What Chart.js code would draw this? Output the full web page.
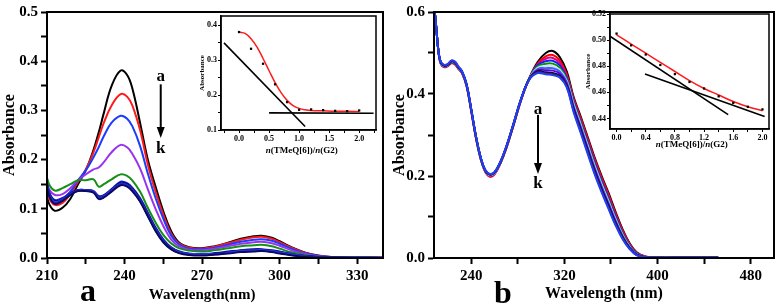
<!DOCTYPE html>
<html><head><meta charset="utf-8">
<script src="https://cdn.jsdelivr.net/npm/chart.js@4.4.1/dist/chart.umd.min.js"></script>
<style>
body{margin:0;background:#fff;width:779px;height:306px;overflow:hidden;position:relative;font-family:"Liberation Serif",serif;}
canvas{position:absolute;}
.t{position:absolute;font-weight:bold;color:#000;white-space:nowrap;line-height:1;}
</style></head><body>
<canvas id="ca" width="390" height="306" style="left:0;top:0;width:390px;height:306px"></canvas>
<canvas id="cb" width="389" height="306" style="left:390px;top:0;width:389px;height:306px"></canvas>
<canvas id="ia" width="185" height="152" style="left:195px;top:8px;width:185px;height:152px"></canvas>
<canvas id="ib" width="193" height="154" style="left:582px;top:6px;width:193px;height:154px"></canvas>
<div class="t" style="left:80px;top:274px;font-size:32px">a</div>
<div class="t" style="left:494px;top:276px;font-size:32px">b</div>
<div class="t" style="left:301.7px;top:150px;font-size:9px;transform:translate(-50%,-50%)"><i>n</i>(TMeQ[6])/<i>n</i>(G2)</div>
<div class="t" style="left:691.7px;top:144px;font-size:9px;transform:translate(-50%,-50%)"><i>n</i>(TMeQ[6])/<i>n</i>(G2)</div>
<script>
// ---------- Panel a data ----------
const wlA = [210,211,213,216,219,222,225,228,230,232,235,238.5,241,243,246,249,252,255,258,261,265,270,275,280,285,290,293,297,300,305,310,315,320,330,340];
const A_a = [0.125,0.108,0.096,0.102,0.12,0.15,0.178,0.22,0.255,0.295,0.35,0.381,0.372,0.345,0.275,0.2,0.145,0.095,0.055,0.032,0.022,0.02,0.024,0.031,0.039,0.044,0.045,0.041,0.034,0.021,0.011,0.005,0.002,0.001,0.001];
const A_b = [0.14,0.12,0.108,0.112,0.13,0.155,0.18,0.215,0.245,0.275,0.31,0.333,0.328,0.31,0.26,0.19,0.135,0.088,0.05,0.03,0.021,0.019,0.023,0.03,0.037,0.042,0.043,0.039,0.032,0.02,0.01,0.004,0.002,0.001,0.001];
const A_c = [0.148,0.128,0.115,0.12,0.135,0.158,0.178,0.205,0.225,0.248,0.275,0.289,0.283,0.268,0.228,0.172,0.122,0.08,0.046,0.028,0.019,0.018,0.021,0.027,0.033,0.037,0.038,0.035,0.029,0.018,0.009,0.004,0.002,0.001,0.001];
const A_d = [0.155,0.138,0.128,0.13,0.142,0.158,0.17,0.18,0.184,0.195,0.215,0.23,0.225,0.212,0.182,0.14,0.1,0.065,0.038,0.024,0.017,0.016,0.019,0.024,0.029,0.032,0.033,0.03,0.025,0.015,0.008,0.003,0.002,0.001,0.001];
const A_e = [0.163,0.148,0.137,0.142,0.15,0.158,0.158,0.16,0.145,0.15,0.16,0.17,0.167,0.158,0.135,0.102,0.072,0.047,0.03,0.02,0.015,0.013,0.016,0.02,0.024,0.026,0.027,0.024,0.019,0.011,0.006,0.002,0.001,0.001,0];
const A_f = [0.152,0.132,0.118,0.122,0.132,0.138,0.138,0.136,0.126,0.128,0.14,0.155,0.152,0.143,0.122,0.092,0.062,0.038,0.022,0.014,0.009,0.008,0.01,0.013,0.016,0.018,0.018,0.016,0.013,0.008,0.004,0.002,0.001,0.001,0];
const A_g = [0.15,0.13,0.116,0.12,0.131,0.137,0.137,0.135,0.124,0.127,0.139,0.153,0.15,0.141,0.12,0.09,0.06,0.036,0.021,0.013,0.008,0.007,0.009,0.012,0.015,0.017,0.017,0.015,0.012,0.007,0.004,0.002,0.001,0.001,0];
const A_h = [0.148,0.128,0.114,0.119,0.13,0.137,0.138,0.136,0.123,0.126,0.138,0.151,0.148,0.139,0.118,0.088,0.058,0.035,0.02,0.012,0.008,0.007,0.008,0.011,0.014,0.016,0.016,0.014,0.011,0.007,0.003,0.001,0.001,0.001,0];
const A_i = [0.146,0.126,0.112,0.118,0.13,0.138,0.138,0.135,0.122,0.125,0.137,0.15,0.147,0.138,0.117,0.087,0.057,0.034,0.019,0.011,0.007,0.006,0.008,0.011,0.013,0.015,0.015,0.013,0.01,0.006,0.003,0.001,0.001,0,0];
const A_j = [0.145,0.125,0.111,0.117,0.129,0.137,0.137,0.134,0.121,0.124,0.136,0.149,0.146,0.137,0.116,0.086,0.056,0.033,0.018,0.011,0.007,0.006,0.007,0.01,0.013,0.014,0.015,0.013,0.01,0.006,0.003,0.001,0.001,0,0];
const A_k = [0.144,0.124,0.11,0.116,0.128,0.136,0.136,0.133,0.12,0.123,0.135,0.148,0.145,0.136,0.115,0.085,0.055,0.032,0.018,0.01,0.006,0.005,0.007,0.009,0.012,0.013,0.014,0.012,0.009,0.005,0.002,0.001,0.001,0,0];
const seriesA = [A_a,A_b,A_c,A_d,A_e,A_f,A_g,A_h,A_i,A_j,A_k];
const colorsA = ['#000000','#ff1a1a','#1a3cff','#9933ee','#158f15','#1f1fd6','#00007a','#2b4de0','#14148f','#3a3aff','#0a0a60'];
const xTicksA = [210,225,240,255,270,285,300,315,330];
const xLabA = [210,240,270,300,330];
const yTicksA = [0,0.05,0.1,0.15,0.2,0.25,0.3,0.35,0.4,0.45,0.5];
const yLabA = [0,0.1,0.2,0.3,0.4,0.5];

// ---------- Panel b data ----------
const wlB = [208,210,212,214,217,220,223,226,229,232,236,240,244,248,252,256,260,265,270,276,283,290,297,304,310,316,322,328,334,340,346,352,358,364,370,376,382,390,400,420,452];
const B_a = [0.62,0.56,0.50,0.474,0.467,0.470,0.477,0.474,0.462,0.452,0.420,0.360,0.295,0.245,0.213,0.202,0.207,0.232,0.268,0.322,0.388,0.440,0.478,0.500,0.505,0.490,0.455,0.392,0.345,0.295,0.245,0.200,0.158,0.112,0.070,0.036,0.014,0.003,0.001,0.001,0.001];
const B_b = [0.62,0.56,0.50,0.472,0.465,0.468,0.475,0.472,0.461,0.451,0.419,0.358,0.293,0.242,0.210,0.198,0.204,0.230,0.267,0.321,0.387,0.439,0.474,0.492,0.495,0.482,0.448,0.388,0.341,0.291,0.241,0.196,0.154,0.108,0.067,0.034,0.013,0.003,0.001,0.001,0.001];
const B_c = [0.62,0.56,0.50,0.473,0.466,0.469,0.476,0.473,0.462,0.452,0.420,0.359,0.294,0.243,0.211,0.200,0.205,0.231,0.267,0.321,0.387,0.439,0.472,0.486,0.488,0.476,0.444,0.384,0.336,0.286,0.236,0.191,0.149,0.104,0.064,0.032,0.012,0.003,0.001,0.001,0.001];
const B_d = [0.62,0.56,0.50,0.474,0.467,0.470,0.478,0.475,0.463,0.452,0.420,0.359,0.294,0.243,0.211,0.201,0.206,0.231,0.268,0.322,0.388,0.439,0.470,0.480,0.481,0.470,0.440,0.381,0.332,0.282,0.232,0.187,0.145,0.101,0.061,0.030,0.011,0.002,0.001,0.001,0.001];
const B_e = [0.62,0.56,0.50,0.474,0.467,0.470,0.478,0.475,0.463,0.453,0.421,0.360,0.295,0.244,0.212,0.202,0.207,0.232,0.268,0.322,0.388,0.439,0.467,0.474,0.474,0.464,0.436,0.378,0.329,0.278,0.228,0.183,0.141,0.097,0.059,0.029,0.010,0.002,0.001,0.001,0.001];
const B_f = [0.62,0.56,0.50,0.475,0.468,0.471,0.479,0.476,0.464,0.453,0.421,0.360,0.295,0.244,0.212,0.202,0.207,0.232,0.269,0.323,0.388,0.438,0.464,0.468,0.468,0.459,0.432,0.374,0.325,0.274,0.224,0.179,0.137,0.094,0.056,0.027,0.009,0.002,0.001,0.001,0.001];
const B_g = [0.62,0.56,0.50,0.475,0.468,0.471,0.479,0.476,0.464,0.454,0.422,0.361,0.296,0.245,0.213,0.203,0.208,0.233,0.269,0.323,0.389,0.438,0.461,0.463,0.463,0.455,0.429,0.370,0.321,0.270,0.220,0.175,0.133,0.091,0.054,0.026,0.009,0.002,0.001,0.001,0.001];
const B_h = [0.62,0.56,0.50,0.476,0.469,0.472,0.480,0.477,0.465,0.454,0.422,0.361,0.296,0.245,0.213,0.203,0.208,0.233,0.270,0.324,0.389,0.437,0.458,0.458,0.457,0.450,0.425,0.366,0.317,0.266,0.216,0.171,0.130,0.088,0.052,0.025,0.008,0.002,0.001,0.001,0.001];
const B_i = [0.62,0.56,0.50,0.476,0.469,0.472,0.480,0.477,0.465,0.455,0.423,0.362,0.297,0.246,0.214,0.204,0.209,0.234,0.270,0.324,0.389,0.437,0.455,0.453,0.451,0.445,0.421,0.362,0.313,0.262,0.212,0.167,0.126,0.085,0.050,0.024,0.008,0.002,0.001,0.001,0.001];
const B_j = [0.62,0.56,0.50,0.477,0.470,0.473,0.481,0.478,0.466,0.455,0.423,0.362,0.297,0.246,0.214,0.204,0.209,0.234,0.271,0.325,0.390,0.436,0.453,0.450,0.448,0.442,0.418,0.358,0.309,0.258,0.208,0.163,0.122,0.082,0.048,0.023,0.007,0.002,0.001,0.001,0.001];
const B_k = [0.62,0.56,0.50,0.478,0.471,0.474,0.482,0.479,0.467,0.456,0.424,0.363,0.298,0.247,0.215,0.205,0.210,0.235,0.271,0.325,0.390,0.436,0.451,0.448,0.446,0.440,0.416,0.355,0.305,0.254,0.204,0.160,0.119,0.079,0.046,0.022,0.007,0.002,0.001,0.001,0.001];
const seriesB = [B_a,B_b,B_c,B_d,B_e,B_f,B_g,B_h,B_i,B_j,B_k];
const colorsB = ['#000000','#ff0000','#e6007e','#1a1aff','#009900','#d8d8ff','#3366ff','#6600cc','#000080','#4d2a00','#1f3fff'];
const xTicksB = [240,280,320,360,400,440,480];
const xLabB = [240,320,400,480];
const yTicksB = [0,0.1,0.2,0.3,0.4,0.5,0.6];
const yLabB = [0,0.2,0.4,0.6];

// ---------- Inset a data ----------
const insAPtsX = [0,0.2,0.4,0.6,0.8,1.0,1.2,1.4,1.6,1.8,2.0];
const insAPtsY = [0.381,0.333,0.29,0.231,0.18,0.158,0.159,0.157,0.155,0.154,0.156];
const insAFitX = [0,0.1,0.2,0.3,0.4,0.5,0.6,0.7,0.8,0.9,1.0,1.1,1.2,1.4,1.6,1.8,2.0];
const insAFitY = [0.381,0.377,0.362,0.338,0.305,0.27,0.236,0.207,0.185,0.17,0.162,0.158,0.156,0.155,0.154,0.154,0.153];
const insALine1X = [-0.25,1.1], insALine1Y = [0.35,0.11];
const insALine2X = [0.5,2.24], insALine2Y = [0.149,0.148];
const insAXTicks = [-0.25,0,0.25,0.5,0.75,1.0,1.25,1.5,1.75,2.0,2.25];
const insAXLab = [0,0.5,1.0,1.5,2.0];
const insAYTicks = [0.1,0.15,0.2,0.25,0.3,0.35,0.4];
const insAYLab = [0.1,0.2,0.3,0.4];

// ---------- Inset b data ----------
const insBPtsX = [0,0.2,0.4,0.6,0.8,1.0,1.2,1.4,1.6,1.8,2.0];
const insBPtsY = [0.505,0.496,0.489,0.481,0.474,0.468,0.463,0.457,0.452,0.449,0.447];
const insBFitX = [0,0.2,0.4,0.6,0.8,1.0,1.2,1.4,1.6,1.8,2.0];
const insBFitY = [0.504,0.497,0.49,0.483,0.476,0.469,0.463,0.458,0.453,0.449,0.446];
const insBLine1X = [-0.09,1.53], insBLine1Y = [0.503,0.443];
const insBLine2X = [0.39,2.03], insBLine2Y = [0.474,0.4415];
const insBXTicks = [0,0.2,0.4,0.6,0.8,1.0,1.2,1.4,1.6,1.8,2.0];
const insBXLab = [0,0.4,0.8,1.2,1.6,2.0];
const insBYTicks = [0.44,0.45,0.46,0.47,0.48,0.49,0.50,0.51,0.52];
const insBYLab = [0.44,0.46,0.48,0.50,0.52];

// ---------- helpers ----------
const FAM = '"Liberation Serif", "Times New Roman", serif';
const has = (arr, v) => arr.some(m => Math.abs(m - v) < 1e-9);
const pts = (xs, ys) => xs.map((x, i) => ({x, y: ys[i]}));

const framePlugin = {
  id: 'frame',
  afterDatasetsDraw(chart, args, opts) {
    const a = chart.chartArea, ctx = chart.ctx;
    ctx.save(); ctx.strokeStyle = '#000'; ctx.lineWidth = opts.w || 2;
    ctx.strokeRect(a.left, a.top, a.right - a.left, a.bottom - a.top);
    ctx.restore();
  }
};
const arrowPlugin = {
  id: 'arrowMark',
  afterDatasetsDraw(chart, args, o) {
    if (!o || o.x === undefined) return;
    const ctx = chart.ctx, xs = chart.scales.x, ys = chart.scales.y;
    const px = xs.getPixelForValue(o.x);
    const y1 = ys.getPixelForValue(o.y1), y2 = ys.getPixelForValue(o.y2);
    ctx.save();
    ctx.fillStyle = '#000'; ctx.strokeStyle = '#000';
    ctx.font = 'bold 17px ' + FAM;
    ctx.textAlign = 'center'; ctx.textBaseline = 'middle';
    ctx.fillText('a', px, ys.getPixelForValue(o.ya));
    ctx.fillText('k', px, ys.getPixelForValue(o.yk));
    ctx.lineWidth = 2;
    ctx.beginPath(); ctx.moveTo(px, y1); ctx.lineTo(px, y2 - 8); ctx.stroke();
    ctx.beginPath(); ctx.moveTo(px - 4, y2 - 11); ctx.lineTo(px + 4, y2 - 11); ctx.lineTo(px, y2); ctx.closePath(); ctx.fill();
    ctx.restore();
  }
};
// draws an x-axis title centred at a chosen wavelength (panel a title sits left of centre)
const xTitlePlugin = {
  id: 'xTitle',
  afterDraw(chart, args, o) {
    if (!o || !o.text) return;
    const ctx = chart.ctx;
    ctx.save();
    ctx.fillStyle = '#000'; ctx.font = 'bold ' + o.size + 'px ' + FAM;
    ctx.textAlign = 'center'; ctx.textBaseline = 'middle';
    ctx.fillText(o.text, chart.scales.x.getPixelForValue(o.at), o.y);
    ctx.restore();
  }
};

function axis(opt) {
  return {
    type: 'linear', min: opt.min, max: opt.max,
    afterBuildTicks: s => { s.ticks = opt.ticks.map(v => ({value: v})); },
    afterFit: s => { if (opt.h !== undefined) s.height = opt.h; if (opt.w !== undefined) s.width = opt.w; },
    ticks: {
      autoSkip: false, maxRotation: 0, color: '#000', padding: opt.pad,
      font: {family: FAM, size: opt.fs, weight: 'bold'},
      callback: v => has(opt.labels, v) ? v.toFixed(opt.dec) : ''
    },
    grid: {drawOnChartArea: false, drawTicks: true, tickLength: opt.tl, tickWidth: opt.tw, tickColor: '#000'},
    border: {display: true, color: '#000', width: opt.bw},
    title: {display: !!opt.title, text: opt.title || '', color: '#000',
      font: {family: FAM, size: opt.tfs, weight: 'bold'}, padding: opt.tpad || 0}
  };
}

function mainChart(id, wl, series, colors, sc, pad, arrow, xt) {
  return new Chart(document.getElementById(id), {
    type: 'line',
    data: {datasets: series.map((s, i) => ({
      data: pts(wl, s), borderColor: colors[i], borderWidth: 2, pointRadius: 0,
      tension: 0.4, fill: false, order: series.length - i
    }))},
    options: {
      responsive: false, animation: false, events: [],
      layout: {padding: pad},
      plugins: {legend: {display: false}, tooltip: {enabled: false}, frame: {w: 2}, arrowMark: arrow, xTitle: xt},
      scales: sc
    },
    plugins: [framePlugin, arrowPlugin, xTitlePlugin]
  });
}

mainChart('ca', wlA, seriesA, colorsA, {
  x: axis({min: 210, max: 340, ticks: xTicksA, labels: xLabA, dec: 0, fs: 15, pad: 3, tl: 6, tw: 2, bw: 2, h: 48}),
  y: axis({min: 0, max: 0.5, ticks: yTicksA, labels: yLabA, dec: 1, fs: 15, pad: 3, tl: 6, tw: 2, bw: 2, w: 47, title: 'Absorbance', tfs: 16, tpad: 0})
}, {top: 10, right: 7, left: 0, bottom: 0}, {x: 254, y1: 0.353, y2: 0.244, ya: 0.369, yk: 0.222},
   {text: 'Wavelength(nm)', size: 15, at: 270, y: 295});

mainChart('cb', wlB, seriesB, colorsB, {
  x: axis({min: 208, max: 500, ticks: xTicksB, labels: xLabB, dec: 0, fs: 15, pad: 3, tl: 6, tw: 2, bw: 2, h: 48, title: 'Wavelength (nm)', tfs: 16, tpad: {top: 0, bottom: 3}}),
  y: axis({min: 0, max: 0.6, ticks: yTicksB, labels: yLabB, dec: 1, fs: 15, pad: 3, tl: 6, tw: 2, bw: 2, w: 44, title: 'Absorbance', tfs: 16, tpad: 0})
}, {top: 8, right: 5, left: 0, bottom: 0}, {x: 297.3, y1: 0.349, y2: 0.205, ya: 0.361, yk: 0.181}, {});

function insetChart(id, d, sc, pad) {
  return new Chart(document.getElementById(id), {
    type: 'line',
    data: {datasets: [
      {data: pts(d.px, d.py), showLine: false, pointStyle: 'rect', pointRadius: 1.6, backgroundColor: '#000', borderColor: '#000', borderWidth: 0},
      {data: pts(d.fx, d.fy), borderColor: '#ff1a1a', borderWidth: 1.5, pointRadius: 0, tension: 0.4},
      {data: pts(d.l1x, d.l1y), borderColor: '#000', borderWidth: 1.6, pointRadius: 0},
      {data: pts(d.l2x, d.l2y), borderColor: '#000', borderWidth: 1.6, pointRadius: 0}
    ]},
    options: {
      responsive: false, animation: false, events: [],
      layout: {padding: pad},
      plugins: {legend: {display: false}, tooltip: {enabled: false}, frame: {w: 1.5}},
      scales: sc
    },
    plugins: [framePlugin]
  });
}

insetChart('ia', {px: insAPtsX, py: insAPtsY, fx: insAFitX, fy: insAFitY, l1x: insALine1X, l1y: insALine1Y, l2x: insALine2X, l2y: insALine2Y}, {
  x: axis({min: -0.3, max: 2.28, ticks: insAXTicks, labels: insAXLab, dec: 1, fs: 8, pad: 1, tl: 3, tw: 1, bw: 1.5, h: 30}),
  y: axis({min: 0.1, max: 0.427, ticks: insAYTicks, labels: insAYLab, dec: 1, fs: 8, pad: 1, tl: 3, tw: 1, bw: 1.5, w: 26, title: 'Absorbance', tfs: 7, tpad: {top: 3, bottom: 0}})
}, {top: 8, right: 4, left: 0, bottom: 0});

insetChart('ib', {px: insBPtsX, py: insBPtsY, fx: insBFitX, fy: insBFitY, l1x: insBLine1X, l1y: insBLine1Y, l2x: insBLine2X, l2y: insBLine2Y}, {
  x: axis({min: -0.09, max: 2.09, ticks: insBXTicks, labels: insBXLab, dec: 1, fs: 8, pad: 1, tl: 3, tw: 1, bw: 1.5, h: 31}),
  y: axis({min: 0.432, max: 0.52, ticks: insBYTicks, labels: insBYLab, dec: 2, fs: 8, pad: 1, tl: 3, tw: 1, bw: 1.5, w: 28, title: 'Absorbance', tfs: 7, tpad: {top: 2, bottom: 0}})
}, {top: 8, right: 6, left: 0, bottom: 0});
</script>
</body></html>
